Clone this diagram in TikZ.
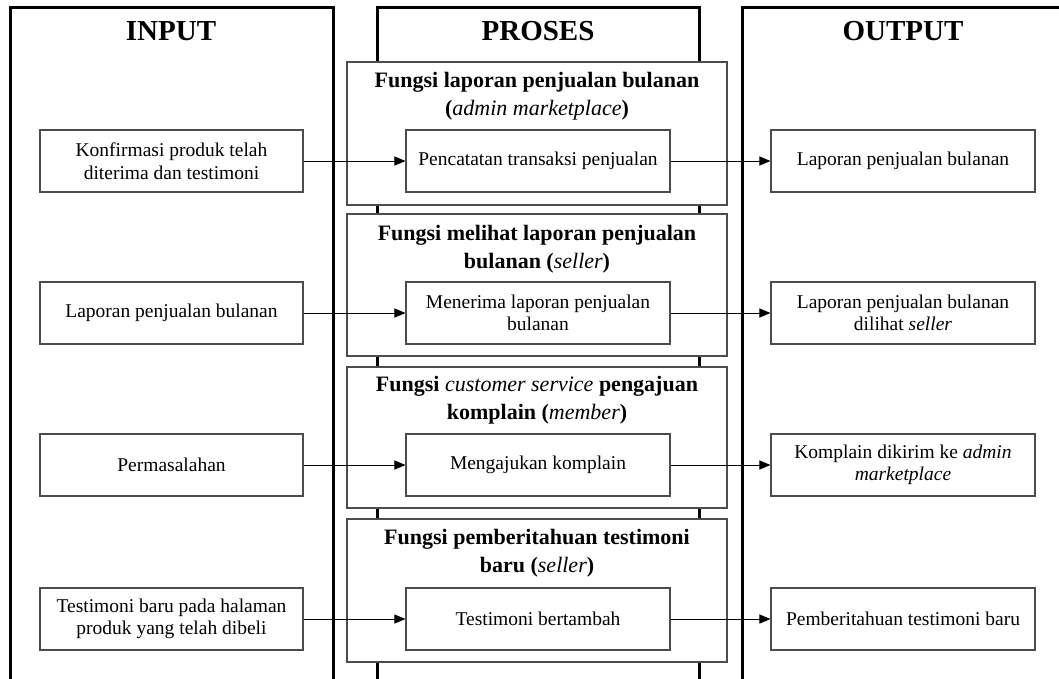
\documentclass[tikz,border=0pt]{standalone}
\usepackage{fontspec}
\setmainfont{Liberation Serif}
\usetikzlibrary{arrows.meta}
\definecolor{boxline}{gray}{0.30}
\tikzset{
  frame/.style={line width=3pt, black},
  funcbox/.style={draw=boxline, line width=1.3pt, fill=white},
  itembox/.style={draw=boxline, line width=1.1pt, fill=white, align=center,
    font=\fontsize{19.5}{22.5}\selectfont, inner sep=0pt},
  coltitle/.style={font=\fontsize{29}{32}\selectfont\bfseries},
  functitle/.style={align=center, font=\fontsize{22}{28}\selectfont\bfseries},
  flow/.style={line width=1pt, -{Triangle[length=11pt,width=9pt]}}
}
\newcommand{\ital}[1]{{\normalfont\itshape #1}}
\begin{document}
\begin{tikzpicture}[x=1pt,y=-1pt]
\useasboundingbox (0,0) rectangle (1059,678);
\fill[white] (0,0) rectangle (1059,678);
\clip (0,0) rectangle (1059,678);

% column frames
\draw[frame] (10,690) -- (10,7) -- (333,7) -- (333,690);
\draw[frame] (377,690) -- (377,7) -- (699,7) -- (699,690);
\draw[frame] (742,690) -- (742,7) -- (1070,7);

\node[coltitle] (tin)  at (171,31) {INPUT};
\node[coltitle] (tpro) at (538,31) {PROSES};
\node[coltitle] (tout) at (903,31) {OUTPUT};

% function panels
\draw[funcbox] (347,62)  rectangle (727,205);
\draw[funcbox] (347,214) rectangle (727,356);
\draw[funcbox] (347,367) rectangle (727,508);
\draw[funcbox] (347,519) rectangle (727,662);

\node[functitle] (f1) at (537,96)  {Fungsi laporan penjualan bulanan\\(\ital{admin marketplace})};
\node[functitle] (f2) at (537,249) {Fungsi melihat laporan penjualan\\bulanan (\ital{seller})};
\node[functitle] (f3) at (537,400) {Fungsi \ital{customer service} pengajuan\\komplain (\ital{member})};
\node[functitle] (f4) at (537,553) {Fungsi pemberitahuan testimoni\\baru (\ital{seller})};

% input items
\node[itembox, minimum width=263pt, minimum height=62pt] (i1) at (171.5,161) {Konfirmasi produk telah\\diterima dan testimoni};
\node[itembox, minimum width=263pt, minimum height=62pt] (i2) at (171.5,313) {Laporan penjualan bulanan};
\node[itembox, minimum width=263pt, minimum height=62pt] (i3) at (171.5,465) {Permasalahan};
\node[itembox, minimum width=263pt, minimum height=62pt] (i4) at (171.5,619) {Testimoni baru pada halaman\\produk yang telah dibeli};

% process items
\node[itembox, minimum width=264pt, minimum height=62pt] (p1) at (538,161) {Pencatatan transaksi penjualan};
\node[itembox, minimum width=264pt, minimum height=62pt] (p2) at (538,313) {Menerima laporan penjualan\\bulanan};
\node[itembox, minimum width=264pt, minimum height=62pt] (p3) at (538,465) {Mengajukan komplain};
\node[itembox, minimum width=264pt, minimum height=62pt] (p4) at (538,619) {Testimoni bertambah};

% output items
\node[itembox, minimum width=264pt, minimum height=62pt] (o1) at (903,161) {Laporan penjualan bulanan};
\node[itembox, minimum width=264pt, minimum height=62pt] (o2) at (903,313) {Laporan penjualan bulanan\\dilihat \textit{seller}};
\node[itembox, minimum width=264pt, minimum height=62pt] (o3) at (903,465) {Komplain dikirim ke \textit{admin}\\\textit{marketplace}};
\node[itembox, minimum width=264pt, minimum height=62pt] (o4) at (903,619) {Pemberitahuan testimoni baru};

% flows
\foreach \k in {1,2,3,4} {
  \draw[flow] (i\k.east) -- (p\k.west);
  \draw[flow] (p\k.east) -- (o\k.west);
}
\end{tikzpicture}
\end{document}
